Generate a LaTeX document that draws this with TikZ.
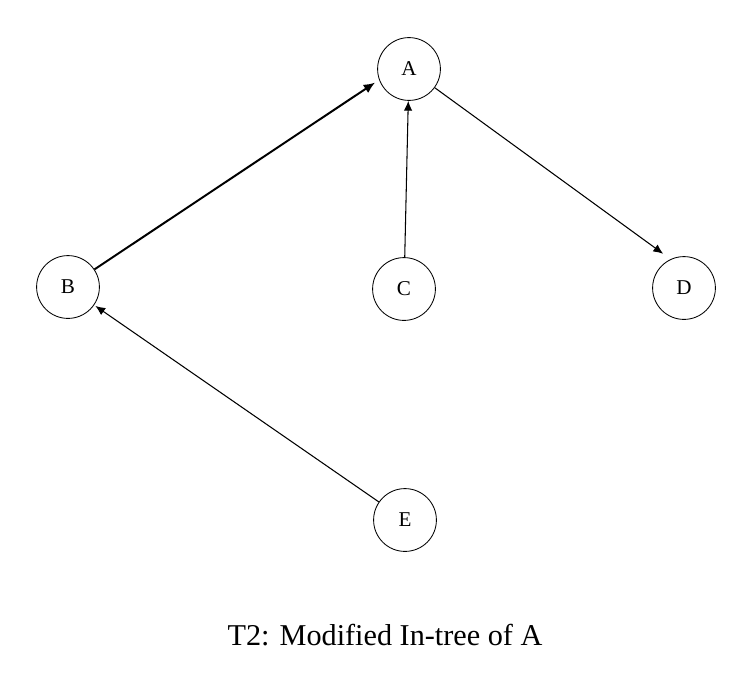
\documentclass[tikz,border=0pt]{standalone}
\usepackage{fontspec}
\setmainfont{Liberation Serif}
\usepackage{tikz}
\usetikzlibrary{arrows.meta,positioning}
\tikzset{
  vertex/.style={circle,draw,line width=0.6pt,minimum size=1.57cm,inner sep=0pt,font=\fontsize{15}{17}\selectfont},
  edge/.style={-{Latex[length=7pt,width=6pt]},line width=0.75pt},
  heavyedge/.style={-{Latex[length=8pt,width=7pt]},line width=1.4pt}
}
\begin{document}
\begin{tikzpicture}[x=0.025cm,y=-0.025cm]
        \useasboundingbox (0,0) rectangle (754,685);
        \node[vertex] (A) at (409,69) {A};
        \node[vertex] (B) at (68,287) {B};
        \node[vertex] (C) at (404,289) {C};
        \node[vertex] (D) at (684,288) {D};
        \node[vertex] (E) at (405,520) {E};
        \node[font=\fontsize{21.5}{25}\selectfont] (title) at (385,635) {T2: Modified In-tree of A};
        \draw[heavyedge,shorten >=3.5pt] (B) -- (A.200);
        \draw[edge] (C) -- (A);
        \draw[edge,shorten >=6.5pt] (A) -- (D.115);
        \draw[edge,shorten >=1pt] (E) -- (B);
      \end{tikzpicture}
\end{document}
